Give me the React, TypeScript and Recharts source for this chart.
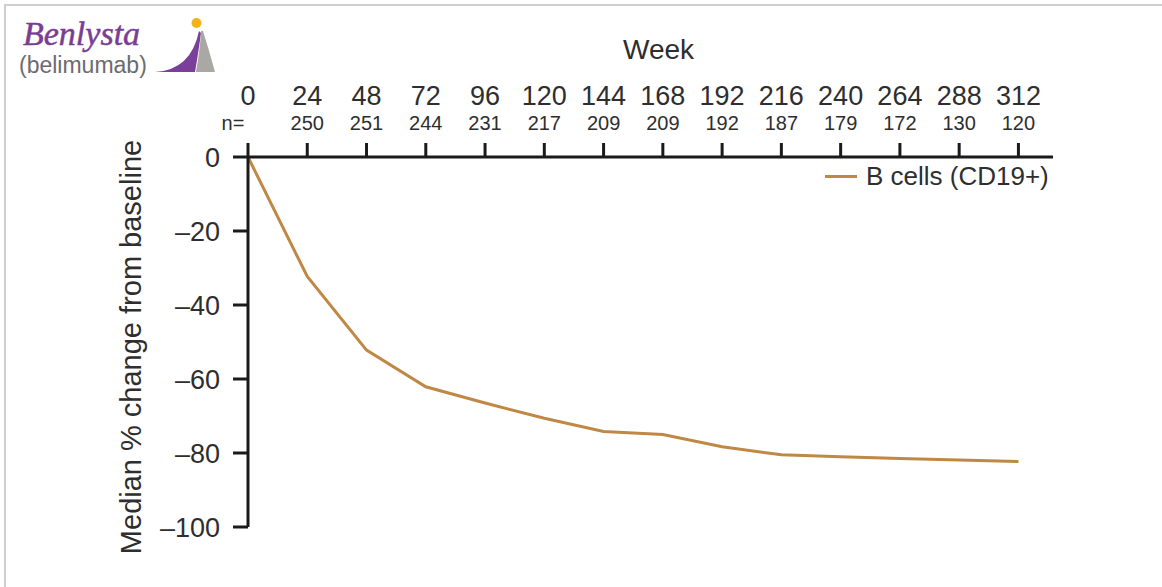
import React from "react";
import { LineChart, Line, XAxis, YAxis, Label } from "recharts";

const weeks = [0, 24, 48, 72, 96, 120, 144, 168, 192, 216, 240, 264, 288, 312];
const nCounts = ["", "250", "251", "244", "231", "217", "209", "209", "192", "187", "179", "172", "130", "120"];
const bCells = [0, -32.3, -52.2, -62.1, -66.5, -70.6, -74.2, -75.0, -78.3, -80.5, -81.0, -81.5, -81.9, -82.3];
const yTicks = [0, -20, -40, -60, -80, -100];

const data = weeks.map((w, i) => ({ week: w, b: bCells[i] }));

const FONT = '"Liberation Sans", Arial, sans-serif';
const TEXT = "#2e2e2e";
const LINE = "#bf8844";

const WeekTick = (props: any) => {
  const { x, y, payload, index } = props;
  const n = nCounts[index];
  return (
    <g>
      <text x={x} y={y - 36} textAnchor="middle" fontSize={27} fontFamily={FONT} fill={TEXT}>
        {payload.value}
      </text>
      <text
        x={index === 0 ? x - 15 : x}
        y={y - 11}
        textAnchor="middle"
        fontSize={20}
        fontFamily={FONT}
        fill={TEXT}
      >
        {index === 0 ? "n=" : n}
      </text>
    </g>
  );
};

function Logo() {
  return (
    <div style={{ position: "absolute", left: 0, top: 0, width: 230, height: 80 }}>
      <div
        style={{
          position: "absolute",
          left: 23,
          top: 19,
          fontFamily: '"Liberation Serif", serif',
          fontStyle: "italic",
          fontSize: 34,
          color: "#7a3d96",
          lineHeight: "30px",
          WebkitTextStroke: "0.5px #7a3d96",
        }}
      >
        Benlysta
      </div>
      <div
        style={{
          position: "absolute",
          left: 19,
          top: 55,
          fontFamily: FONT,
          fontSize: 23,
          color: "#6b6b6e",
          lineHeight: "20px",
        }}
      >
        (belimumab)
      </div>
      <svg width={230} height={80} style={{ position: "absolute", left: 0, top: 0 }}>
        <path d="M155,72 Q191,70 199,31 L201,33 Q198,55 195,72 Z" fill="#7b3f9a" />
        <path d="M201,31 L203,31 Q209,50 215,72 L196,72 Q200,50 201,31 Z" fill="#aaa8a5" />
        <circle cx={196.5} cy={23} r={5} fill="#f2b418" />
      </svg>
    </div>
  );
}

export default function App() {
  return (
    <div style={{ position: "absolute", left: 0, top: 0, width: 1162, height: 587, background: "#fff" }}>
      <div
        style={{
          position: "absolute",
          left: 4,
          top: 4,
          right: 0,
          bottom: 0,
          borderTop: "2px solid #cfcfcf",
          borderLeft: "2px solid #cfcfcf",
        }}
      />
      <Logo />
      <div style={{ position: "absolute", left: 0, top: 0 }}>
        <LineChart width={1162} height={587} data={data} margin={{ top: 57, right: 109, bottom: 60, left: 148 }}>
          <XAxis
            dataKey="week"
            type="number"
            orientation="top"
            domain={[0, 326]}
            ticks={weeks}
            height={100}
            tickSize={14}
            tick={<WeekTick />}
            interval={0}
            axisLine={{ stroke: "#1a1a1a", strokeWidth: 3 }}
            tickLine={{ stroke: "#1a1a1a", strokeWidth: 3 }}
          >
            <Label
              content={(p: any) => {
                const vb = p.viewBox;
                return (
                  <text
                    x={vb.x + vb.width / 2 + 8}
                    y={vb.y + 2}
                    textAnchor="middle"
                    fontSize={28}
                    fontFamily={FONT}
                    fill={TEXT}
                  >
                    Week
                  </text>
                );
              }}
            />
          </XAxis>
          <YAxis
            type="number"
            domain={[-100, 0]}
            ticks={yTicks}
            width={100}
            tickSize={15}
            tickMargin={13}
            interval={0}
            tickFormatter={(v: number) => String(v).replace("-", "\u2013")}
            tick={{ fontSize: 27, fontFamily: FONT, fill: TEXT }}
            axisLine={{ stroke: "#1a1a1a", strokeWidth: 3 }}
            tickLine={{ stroke: "#1a1a1a", strokeWidth: 3 }}
          >
            <Label
              content={(p: any) => {
                const vb = p.viewBox;
                const cx = vb.x - 7;
                const cy = vb.y + vb.height / 2 + 5;
                return (
                  <text
                    x={cx}
                    y={cy}
                    transform={`rotate(-90 ${cx} ${cy})`}
                    textAnchor="middle"
                    fontSize={29}
                    fontFamily={FONT}
                    fill={TEXT}
                  >
                    Median % change from baseline
                  </text>
                );
              }}
            />
          </YAxis>
          <Line
            type="linear"
            dataKey="b"
            name="B cells (CD19+)"
            stroke={LINE}
            strokeWidth={3}
            dot={false}
            isAnimationActive={false}
          />
        </LineChart>
      </div>
      <div
        style={{
          position: "absolute",
          left: 825,
          top: 161,
          display: "flex",
          alignItems: "center",
          fontFamily: FONT,
          fontSize: 26,
          color: TEXT,
          lineHeight: "30px",
        }}
      >
        <span style={{ display: "inline-block", width: 32, height: 3, background: LINE, marginRight: 9 }} />
        <span>B cells (CD19+)</span>
      </div>
    </div>
  );
}
